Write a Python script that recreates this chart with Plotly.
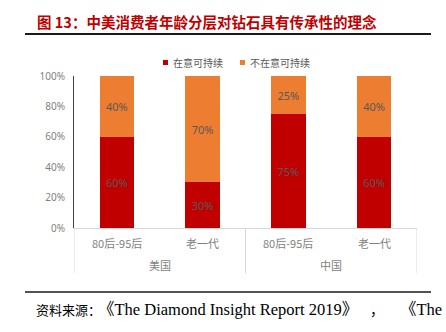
import plotly.graph_objects as go

countries = ["美国", "美国", "中国", "中国"]
groups = ["80后-95后", "老一代", "80后-95后", "老一代"]
care = [60, 30, 75, 60]
not_care = [40, 70, 25, 40]
series_names = ["在意可持续", "不在意可持续"]
colors = ["#C00000", "#ED7D31"]
y_ticks = [0, 20, 40, 60, 80, 100]

W, H = 446, 332
L, R, T, B = 74, 29, 76, 104
pw, ph = W - L - R, H - T - B

def px(x):
    return (x - L) / pw

def py(y):
    return (H - B - y) / ph

cats = [f"{c}|{g}" for c, g in zip(countries, groups)]

fig = go.Figure()
for name, vals, c in zip(series_names, [care, not_care], colors):
    fig.add_trace(go.Bar(
        x=cats, y=vals, name=name,
        marker=dict(color=c, line=dict(width=0)),
        text=[f"{v}%" for v in vals], textposition="inside",
        insidetextanchor="middle",
        textfont=dict(color="#595959", size=11, family="Noto Sans"),
        width=0.4, showlegend=False,
    ))

fig.update_layout(
    barmode="stack",
    width=W, height=H,
    margin=dict(l=L, r=R, t=T, b=B),
    paper_bgcolor="white", plot_bgcolor="white",
    font=dict(family="Noto Sans CJK SC"),
)
fig.update_yaxes(range=[0, 100], tickvals=y_ticks, ticktext=[f"{v}%" for v in y_ticks],
                 showgrid=False, zeroline=False, showline=True, linecolor="#404040", linewidth=1,
                 tickfont=dict(size=10, color="#7f7f7f", family="Noto Sans"), ticks="", ticklabelstandoff=6)
fig.update_xaxes(type="category", categoryorder="array", categoryarray=cats, range=[-0.5, len(cats) - 0.5],
                 showline=True, linecolor="#D9D9D9", linewidth=1, showticklabels=False, ticks="", showgrid=False)

# inner category labels
for c, g in zip(cats, groups):
    fig.add_annotation(text=g, xref="x", yref="paper", x=c, y=py(243), yanchor="middle",
                       showarrow=False, font=dict(size=11, color="#7f7f7f", family="Noto Sans CJK SC"))
# outer category labels + dividers
seen = []
for c in countries:
    if c not in seen:
        seen.append(c)
n_per = len(cats) // len(seen)
for k, c in enumerate(seen):
    fig.add_annotation(text=c, xref="x", yref="paper", x=k * n_per + (n_per - 1) / 2, y=py(265),
                       yanchor="middle", showarrow=False,
                       font=dict(size=11, color="#7f7f7f", family="Noto Sans CJK SC"))
for k in range(len(seen) + 1):
    xv = k * n_per - 0.5
    fig.add_shape(type="line", xref="x", yref="paper", x0=xv, x1=xv, y0=0, y1=py(273),
                  line=dict(color="#D9D9D9", width=1))

# legend built as text
leg_items = [(163, 171, series_names[0], colors[0]), (240, 248, series_names[1], colors[1])]
for sx, tx, name, col in leg_items:
    fig.add_shape(type="rect", xref="paper", yref="paper", x0=px(sx), x1=px(sx + 5),
                  y0=py(65), y1=py(60), fillcolor=col, line=dict(width=0))
    fig.add_annotation(text=name, xref="paper", yref="paper", x=px(tx), y=py(62.5),
                       xanchor="left", yanchor="middle", showarrow=False,
                       font=dict(size=10, color="#595959", family="Noto Sans CJK SC"))

fig.add_annotation(text="<b>图 13：中美消费者年龄分层对钻石具有传承性的理念</b>", xref="paper", yref="paper",
                   x=px(35), y=py(22), xanchor="left", yanchor="middle", showarrow=False,
                   font=dict(size=14.5, color="#C00000", family="Noto Sans CJK SC"))
fig.add_shape(type="line", xref="paper", yref="paper", x0=px(25), x1=px(431), y0=py(34), y1=py(34),
              line=dict(color="#1a1a1a", width=2))
fig.add_shape(type="line", xref="paper", yref="paper", x0=px(25), x1=px(431), y0=py(292), y1=py(292),
              line=dict(color="#1a1a1a", width=1.5))
src_parts = [(34, "资料来源：", 13, "Noto Sans CJK SC"),
             (96, "《The Diamond Insight Report 2019》", 16.5, "Liberation Serif, Noto Sans CJK SC"),
             (368, "，", 14, "Noto Sans CJK SC"),
             (398, "《The", 16.5, "Liberation Serif, Noto Sans CJK SC")]
for sx, txt, sz, fam in src_parts:
    fig.add_annotation(text=txt, xref="paper", yref="paper",
                       x=px(sx), y=py(309), xanchor="left", yanchor="middle", showarrow=False,
                       font=dict(size=sz, color="#000000", family=fam))

fig.write_html("out.html")
